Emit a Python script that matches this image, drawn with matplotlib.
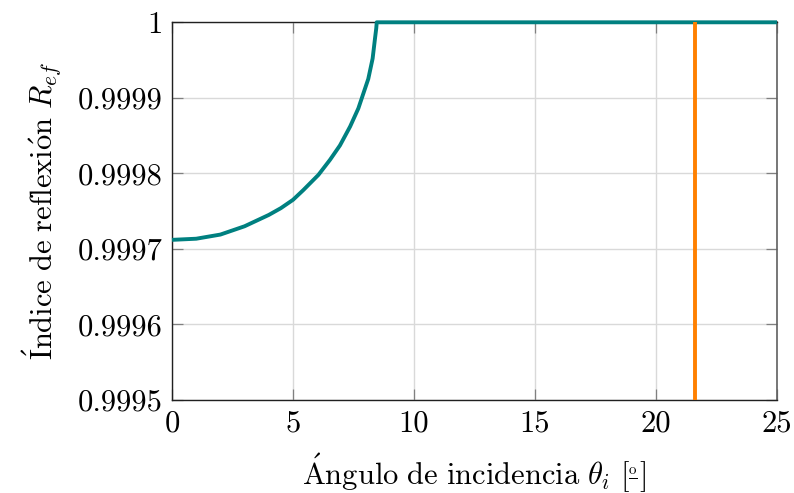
import matplotlib
matplotlib.use("Agg")
import matplotlib.pyplot as plt

plt.rcParams["font.family"] = ["cmr10", "DejaVu Serif"]
plt.rcParams["mathtext.fontset"] = "cm"
plt.rcParams["axes.unicode_minus"] = False
plt.rcParams["axes.formatter.use_mathtext"] = True

# Reflection index vs. incidence angle (degrees)
theta = [0.0, 1.0, 2.0, 3.0, 4.0, 4.5, 5.0, 5.43, 6.05, 6.53, 6.94, 7.36,
         7.7, 7.91, 8.11, 8.29, 8.39, 8.44, 8.46, 25.0]
r_ef = [0.999712, 0.9997135, 0.999719, 0.99973, 0.999745, 0.999754,
        0.999765, 0.999778, 0.999798, 0.999818, 0.999837, 0.999862,
        0.999886, 0.999906, 0.999925, 0.999952, 0.999979, 0.999992,
        1.0, 1.0]

# Critical angle marker
theta_c = 21.6

xticks = [0, 5, 10, 15, 20, 25]
yticks = [0.9995, 0.9996, 0.9997, 0.9998, 0.9999, 1.0]
ytick_labels = ["0.9995", "0.9996", "0.9997", "0.9998", "0.9999", "1"]

fig = plt.figure(figsize=(7.94, 4.93), dpi=100)
ax = fig.add_axes([172 / 794, 1 - 400 / 493, (777 - 172) / 794, (400 - 22.3) / 493])

ax.plot(theta, r_ef, color="#008080", lw=2.8, solid_capstyle="butt",
        solid_joinstyle="round", clip_on=False, zorder=3)
ax.axvline(theta_c, color="#ff8000", lw=2.8, zorder=3)

ax.set_xlim(0, 25)
ax.set_ylim(0.9995, 1.0)
ax.set_xticks(xticks)
ax.set_xticklabels([str(t) for t in xticks])
ax.set_yticks(yticks)
ax.set_yticklabels(ytick_labels)

ax.grid(True, color="#d9d9d9", lw=1.0)
ax.set_axisbelow(True)
ax.tick_params(direction="in", length=8, width=0.9, color="#808080",
               top=True, right=True, labelsize=22, pad=7)
for side in ["left", "bottom", "top"]:
    ax.spines[side].set_linewidth(1.0)
    ax.spines[side].set_color("#202020")
ax.spines["right"].set_linewidth(1.2)
ax.spines["right"].set_color("#606060")

ax.set_xlabel(r"$\mathrm{\acute{A}ngulo\ de\ incidencia}\ \theta_i\ "
              r"[\genfrac{}{}{0.7}{2}{\mathrm{o}}{\,}]$",
              fontsize=22, labelpad=10)
ax.set_ylabel(r"$\mathrm{\acute{I}ndice\ de\ reflexi\acute{o}n}\ R_{ef}$",
              fontsize=22, labelpad=10)

fig.savefig("out.png", dpi=100)
